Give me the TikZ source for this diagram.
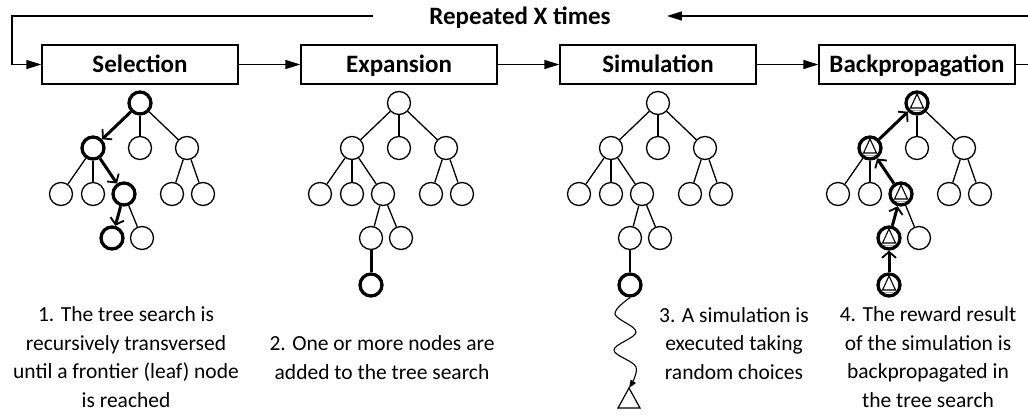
\documentclass[tikz,border=0pt]{standalone}
\usepackage{fontspec}
\setmainfont{Carlito}
\usetikzlibrary{arrows.meta}
\tikzset{
  nd/.style={circle, draw, line width=1.3pt, minimum size=23pt, inner sep=0pt},
  hot/.style={line width=3.3pt, minimum size=22pt},
  tri/.style={path picture={
      \draw[line width=1.1pt, shift={(path picture bounding box.center)}] (0,-9) -- (-6.5,5) -- (6.5,5) -- cycle;
      \draw[gray!70, line width=1.5pt, shift={(path picture bounding box.center)}] (-7,7.5) -- (7,7.5);}},
  ed/.style={line width=1.3pt},
  thk/.style={line width=3pt},
  dn/.style={thk, -{Straight Barb[length=6pt,width=14pt,line width=1.8pt]}},
  upar/.style={thk, {Straight Barb[length=6pt,width=14pt,line width=1.8pt]}-},
  box/.style={draw, line width=1.3pt, minimum width=196pt, minimum height=39pt, inner sep=0pt,
    font=\fontsize{25}{30}\selectfont\bfseries, text height=16pt, text depth=0pt},
  flow/.style={line width=1.3pt, -{Triangle[length=15pt,width=9pt]}},
  note/.style={align=center, font=\fontsize{21.5}{28.5}\selectfont, inner sep=0pt},
  S/r/.style={hot}, S/a/.style={hot}, S/a3/.style={hot}, S/x/.style={hot},
  S/ra/.style={dn}, S/aa3/.style={dn}, S/a3x/.style={dn},
  B/r/.style={hot,tri}, B/a/.style={hot,tri}, B/a3/.style={hot,tri}, B/x/.style={hot,tri},
  B/ra/.style={upar}, B/aa3/.style={upar}, B/a3x/.style={upar},
}
\newcommand{\mcts}[2]{%
  \node[nd,#1/r/.try]  (#1r)  at (#2,103) {};
  \node[nd,#1/a/.try]  (#1a)  at (#2-47,148) {};
  \node[nd]            (#1b)  at (#2,148) {};
  \node[nd]            (#1c)  at (#2+47,148) {};
  \node[nd]            (#1a1) at (#2-79,194) {};
  \node[nd]            (#1a2) at (#2-47,194) {};
  \node[nd,#1/a3/.try] (#1a3) at (#2-16,194) {};
  \node[nd]            (#1c1) at (#2+32,194) {};
  \node[nd]            (#1c2) at (#2+63,194) {};
  \node[nd,#1/x/.try]  (#1x)  at (#2-28,238) {};
  \node[nd]            (#1y)  at (#2+2,238) {};
  \draw[ed] (#1r) -- (#1b);
  \draw[ed] (#1r) -- (#1c);
  \draw[ed] (#1a) -- (#1a1);
  \draw[ed] (#1a) -- (#1a2);
  \draw[ed] (#1c) -- (#1c1);
  \draw[ed] (#1c) -- (#1c2);
  \draw[ed] (#1a3) -- (#1y);
  \draw[ed,#1/ra/.try] (#1r) -- (#1a);
  \draw[ed,#1/aa3/.try] (#1a) -- (#1a3);
  \draw[ed,#1/a3x/.try] (#1a3) -- (#1x);
}
\begin{document}
\begin{tikzpicture}[x=1pt, y=-1pt]
\useasboundingbox (0,0) rectangle (1028,416);

% process boxes
\node[box] (sel) at (140,64.5) {Selection};
\node[box] (exp) at (399,64.5) {Expansion};
\node[box] (sim) at (658,64.5) {Simulation};
\node[box] (bp)  at (917,64.5) {Backpropagation};
\draw[flow] (sel) -- (exp);
\draw[flow] (exp) -- (sim);
\draw[flow] (sim) -- (bp);

% loop
\node[font=\fontsize{25}{30}\selectfont\bfseries, inner xsep=56pt, inner ysep=0pt,
      text height=16pt, text depth=0pt] (rep) at (520,16) {Repeated X times};
\coordinate (loopL) at (12,16);
\coordinate (loopR) at (1034,16);
\draw[flow] (bp.east) -- (bp.east -| loopR) -- (loopR) -- (rep.east);
\draw[flow] (rep.west) -- (loopL) |- (sel.west);

% trees
\mcts{S}{140}
\mcts{E}{399}
\mcts{M}{658}
\mcts{B}{917}

% expansion: new node
\node[nd,hot] (Enew) at (371,285) {};
\draw[thk] (Ex) -- (Enew);

% simulation: new node and random playout
\node[nd,hot] (Mnew) at (630,285) {};
\draw[ed] (Mx) -- (Mnew);
\coordinate (leaf) at (629,388);
\draw[line width=1.1pt, -{Triangle[length=8pt,width=6pt]}]
  plot[smooth, tension=0.6] coordinates {(Mnew.south) (615,314) (636,332) (614,350) (636,367) (leaf)};
\draw[line width=1.2pt] (leaf) -- ++(-11,20) -- ++(22,0) -- cycle;

% backpropagation: new node
\node[nd,hot,tri] (Bnew) at (889,285) {};
\draw[upar] (Bx) -- (Bnew);

% notes (base anchor = baseline of the last line)
\node[note, anchor=base] (n1) at (126,407) {1. The tree search is\\recursively transversed\\until a frontier (leaf) node\\is reached};
\node[note, anchor=base] (n2) at (382,379) {2. One or more nodes are\\added to the tree search};
\node[note, anchor=base] (n3) at (734,379) {3. A simulation is\\executed taking\\random choices};
\node[note, anchor=base] (n4) at (928,407) {4. The reward result\\of the simulation is\\backpropagated in\\the tree search};
\end{tikzpicture}
\end{document}
